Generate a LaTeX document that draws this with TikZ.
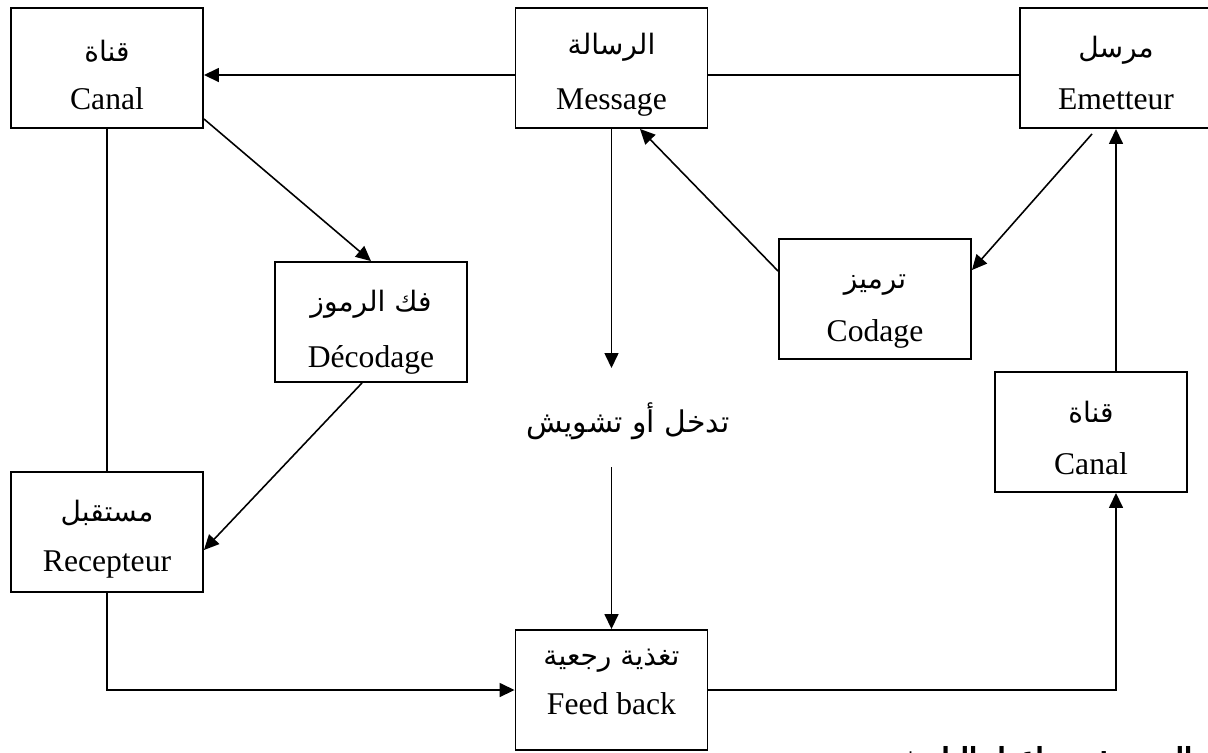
\documentclass[tikz,border=0pt]{standalone}
\usepackage{fontspec}
\setmainfont{Liberation Serif}
\newfontfamily\arabicfont[Script=Arabic]{DejaVu Sans}
\TeXXeTstate=1
\usetikzlibrary{arrows.meta}
% Arabic line of a box label (the text itself carries its \beginR ... \endR)
\newcommand{\arline}[1]{{\arabicfont\fontsize{16}{18}\selectfont #1}}
% a framed box with an Arabic line and a Latin line below it
% #1 name, #2 centre, #3 Arabic, #4 Latin, #5 drop of the Arabic line, #6 drop of the Latin baseline
\newcommand{\labelledbox}[6]{%
  \node[box] (#1) at (#2) {};
  \node[arlbl] (#1-ar) at ([yshift=-#5]#1.north) {\arline{#3}};
  \node[latlbl] (#1-lat) at ([yshift=-#6]#1.north) {#4};
}

\begin{document}
\begin{tikzpicture}[
  x=0.02cm, y=-0.02cm,
  line width=0.9pt,
  arr/.style={-{Triangle[length=0.3cm,width=0.28cm]}},
  box/.style={draw, line width=1.1pt, minimum width=3.84cm, minimum height=2.4cm, inner sep=0pt},
  arlbl/.style={inner sep=0pt, anchor=center},
  latlbl/.style={inner sep=0pt, anchor=base, font=\fontsize{18}{22}\selectfont},
]
\useasboundingbox (0,0) rectangle (1208,752);

% boxes
\labelledbox{canalL}{107,68}{\beginR قناة\endR}{Canal}{0.88cm}{2.04cm}
\labelledbox{msg}{611.5,68}{\beginR الرسالة\endR}{Message}{0.80cm}{2.04cm}
\labelledbox{emet}{1116,68}{\beginR مرسل\endR}{Emetteur}{0.86cm}{2.04cm}
\labelledbox{decod}{371,322}{\beginR فك الرموز\endR}{Décodage}{0.86cm}{2.12cm}
\labelledbox{codage}{875,299}{\beginR ترميز\endR}{Codage}{0.94cm}{2.06cm}
\labelledbox{canalR}{1091,432}{\beginR قناة\endR}{Canal}{0.82cm}{2.06cm}
\labelledbox{recep}{107,532}{\beginR مستقبل\endR}{Recepteur}{0.83cm}{2.0cm}
\labelledbox{feed}{611.5,690}{\beginR تغذية رجعية\endR}{Feed back}{0.64cm}{1.70cm}

% noise label between the message and the feedback
\node (noise) at (628,421) {\arabicfont\fontsize{17}{20}\selectfont\beginR تدخل أو تشويش\endR};
\coordinate (noiseTop) at (611.5,368);
\coordinate (noiseBot) at (611.5,467);

% source line at the foot of the page
\node[anchor=north east, inner sep=0pt] (src) at (1193,746)
  {\arabicfont\bfseries\fontsize{13.5}{16}\selectfont\beginR المصدر: من إعداد الباحث\endR};

% connectors
\draw[arr] ([yshift=-0.14cm]msg.west) -- ([yshift=-0.14cm]canalL.east);
\draw ([yshift=-0.14cm]msg.east) -- ([yshift=-0.14cm]emet.west);
\draw (canalL.south) -- (recep.north);
\draw[arr] ([yshift=0.2cm]canalL.south east) -- (decod.north);
\draw[arr] ([xshift=-0.18cm]decod.south) -- ([yshift=-0.36cm]recep.east);
\draw[arr] (msg.south) -- (noiseTop);
\draw[arr] (noiseBot) -- (feed.north);
\draw[arr] ([yshift=-0.66cm]codage.north west) -- ([xshift=0.57cm]msg.south);
\draw[arr] ([xshift=-0.48cm,yshift=-0.1cm]emet.south) -- ([yshift=0.58cm]codage.east);
\draw[arr] (canalR.north -| emet.south) -- (emet.south);
\draw[arr] (feed.east) -| (canalR.south -| emet.south);
\draw[arr] (recep.south) |- (feed.west);
\end{tikzpicture}
\end{document}
